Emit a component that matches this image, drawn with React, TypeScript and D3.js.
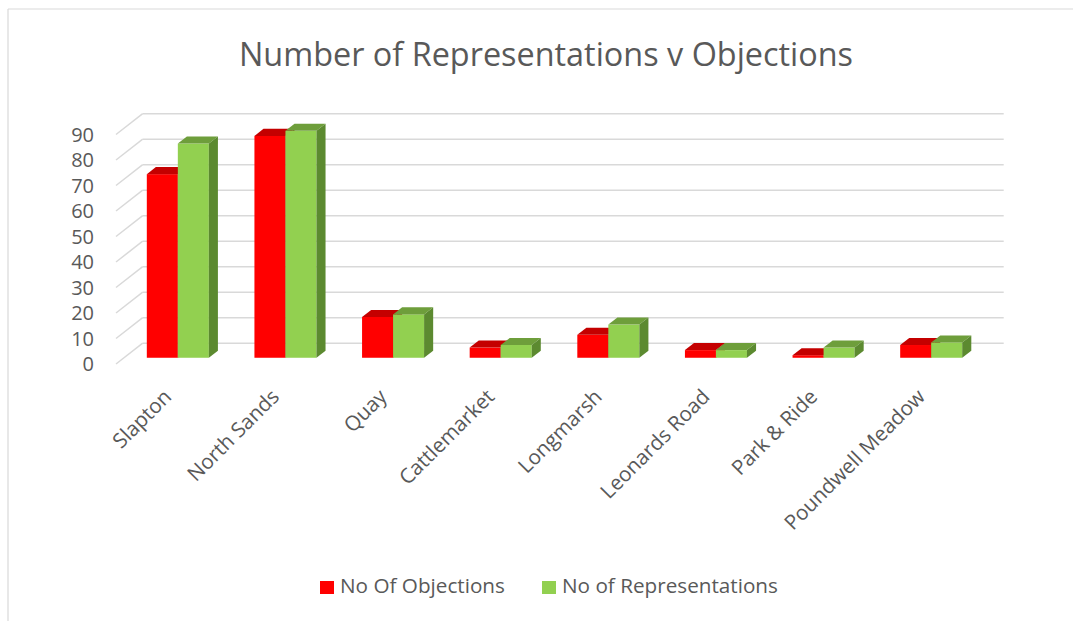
import React from 'react';
import * as d3 from 'd3';

const categories = ['Slapton', 'North Sands', 'Quay', 'Cattlemarket', 'Longmarsh', 'Leonards Road', 'Park & Ride', 'Poundwell Meadow'];
const seriesNames = ['No Of Objections', 'No of Representations'];
const objections = [72, 87, 16, 4, 9, 3, 1, 5];
const representations = [84, 89, 17, 5, 13, 3, 4, 6];
const yTicks = [0, 10, 20, 30, 40, 50, 60, 70, 80, 90];

const width = 1073;
const height = 621;
const font = "'Open Sans', sans-serif";

const palette = [
  { front: '#FF0000', top: '#C40000', side: '#A80000' },
  { front: '#92D050', top: '#6E9E3B', side: '#5C8A30' },
];

// oblique 3D: full floor depth vector, bars sit in the middle part of it
const depth = { dx: 26.7, dy: -20.8 };
const barFront = 0.3;
const barBack = 0.64;

export default function App() {
  const x = d3.scaleBand<string>().domain(categories).range([116, 977]);
  const xs = d3.scaleBand<string>().domain(seriesNames).range([0, x.bandwidth()]).paddingOuter(0.735);
  const y = d3.scaleLinear().domain([0, 90]).range([364, 134.5]);
  const values = [objections, representations];

  const fx = depth.dx * barFront;
  const fy = depth.dy * barFront;
  const bdx = depth.dx * (barBack - barFront);
  const bdy = depth.dy * (barBack - barFront);
  const w = xs.bandwidth();
  const pts = (p: number[][]) => p.map(q => q.join(',')).join(' ');

  return (
    <svg width={width} height={height} viewBox={`0 0 ${width} ${height}`}
      style={{ position: 'absolute', left: 0, top: 0, background: '#fff' }}>
      <rect width={width} height={height} fill="#fff" />
      {/* chart frame (top and left visible) */}
      <line x1={8} x2={width} y1={9} y2={9} stroke="#D9D9D9" strokeWidth={1.2} />
      <line x1={8} x2={8} y1={9} y2={height} stroke="#D9D9D9" strokeWidth={1.2} />

      <text x={546} y={66} textAnchor="middle" fontFamily={font} fontSize={32.4} fill="#595959">
        Number of Representations v Objections
      </text>

      {/* side wall + back wall gridlines */}
      {yTicks.map(t => (
        <g key={t}>
          <line x1={116} y1={y(t)} x2={116 + depth.dx} y2={y(t) + depth.dy} stroke="#D9D9D9" strokeWidth={1.5} />
          <line x1={116 + depth.dx} y1={y(t) + depth.dy} x2={977 + depth.dx} y2={y(t) + depth.dy} stroke="#D9D9D9" strokeWidth={1.5} />
          <text x={94} y={y(t)} dy="0.35em" textAnchor="end" fontFamily={font} fontSize={20} fill="#595959">{t}</text>
        </g>
      ))}

      {/* bars */}
      {categories.map((c, i) => (
        <g key={c}>
          {seriesNames.map((s, k) => {
            const v = values[k][i];
            const x0 = (x(c) || 0) + (xs(s) || 0) + fx;
            const yb = y(0) + fy;
            const yt = y(v) + fy;
            const col = palette[k];
            return (
              <g key={s}>
                <rect x={x0} y={yt} width={w} height={yb - yt} fill={col.front} />
                <polygon points={pts([[x0, yt], [x0 + w, yt], [x0 + w + bdx, yt + bdy], [x0 + bdx, yt + bdy]])} fill={col.top} />
                <polygon points={pts([[x0 + w, yt], [x0 + w + bdx, yt + bdy], [x0 + w + bdx, yb + bdy], [x0 + w, yb]])} fill={col.side} />
              </g>
            );
          })}
        </g>
      ))}

      {/* category labels */}
      {categories.map(c => {
        const cx = (x(c) || 0) + x.bandwidth() / 2 + 3;
        const cy = 398;
        return (
          <text key={c} x={cx} y={cy} textAnchor="end" transform={`rotate(-45 ${cx} ${cy})`}
            fontFamily={font} fontSize={20.6} fill="#595959">{c}</text>
        );
      })}

      {/* legend */}
      <rect x={320} y={581} width={14} height={13} fill={palette[0].front} />
      <text x={340} y={593} fontFamily={font} fontSize={20.7} fill="#595959">{seriesNames[0]}</text>
      <rect x={542} y={581} width={14} height={13} fill={palette[1].front} />
      <text x={562} y={593} fontFamily={font} fontSize={20.7} fill="#595959">{seriesNames[1]}</text>
    </svg>
  );
}
